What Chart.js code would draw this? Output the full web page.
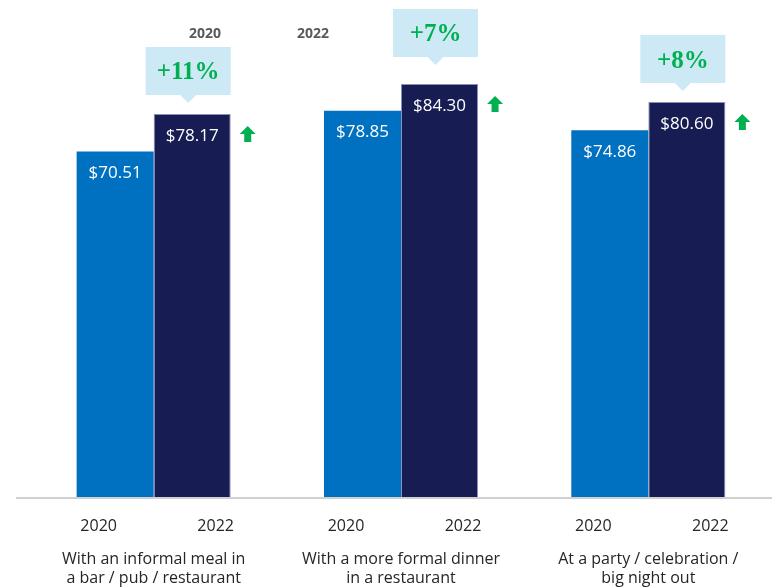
<!DOCTYPE html>
<html>
<head>
<meta charset="utf-8">
<title>Average spend per occasion</title>
<script src="https://cdn.jsdelivr.net/npm/chart.js@4.4.1/dist/chart.umd.min.js"></script>
<style>
    html, body { margin: 0; padding: 0; background: #fff; }
    #spendChart { display: block; }
</style>
</head>
<body>
<canvas id="spendChart" width="772" height="587"></canvas>
<script>
// Occasions (two-line tick labels)
const categories = [
    ['With an informal meal in', 'a bar / pub / restaurant'],
    ['With a more formal dinner', 'in a restaurant'],
    ['At a party / celebration /', 'big night out']
];
const years = ['2020', '2022'];
const spend2020 = [70.51, 78.85, 74.86];
const spend2022 = [78.17, 84.30, 80.60];
const yTicks = [0, 100];

const colors = {
    bar2020: '#0070C0',
    bar2022: '#171D52',
    bar2022Edge: '#8A90BC',
    callout: '#CDE9F6',
    up: '#00B050',
    axis: '#D0D0D0',
    text: '#262626',
    legend: '#595959'
};

const sansFont = '"Open Sans", "Noto Sans", sans-serif';
const serifFont = '"Liberation Serif", "DejaVu Serif", serif';

/**
 * Percentage change 2020 -> 2022, rounded like the slide
 */
function pctChange(i) {
    return Math.round((spend2022[i] / spend2020[i] - 1) * 100);
}

function formatSpend(v) {
    return '$' + v.toFixed(2);
}

/**
 * Small green up arrow next to a bar
 */
function drawUpArrow(ctx, cx, cy) {
    ctx.save();
    ctx.fillStyle = colors.up;
    ctx.beginPath();
    ctx.moveTo(cx, cy - 8);
    ctx.lineTo(cx + 8, cy);
    ctx.lineTo(cx + 3.5, cy);
    ctx.lineTo(cx + 3.5, cy + 8);
    ctx.lineTo(cx - 3.5, cy + 8);
    ctx.lineTo(cx - 3.5, cy);
    ctx.lineTo(cx - 8, cy);
    ctx.closePath();
    ctx.fill();
    ctx.restore();
}

/**
 * Speech-bubble box with a pointer at the bottom centre
 */
function drawCallout(ctx, cx, bottom, text) {
    const w = 85, h = 48, tip = 8;
    const left = cx - w / 2, top = bottom - h;
    ctx.save();
    ctx.fillStyle = colors.callout;
    ctx.beginPath();
    ctx.moveTo(left, top);
    ctx.lineTo(left + w, top);
    ctx.lineTo(left + w, bottom);
    ctx.lineTo(cx + tip, bottom);
    ctx.lineTo(cx, bottom + tip);
    ctx.lineTo(cx - tip, bottom);
    ctx.lineTo(left, bottom);
    ctx.closePath();
    ctx.fill();

    ctx.fillStyle = colors.up;
    ctx.font = 'bold 25px ' + serifFont;
    ctx.textAlign = 'center';
    ctx.textBaseline = 'middle';
    ctx.fillText(text, cx, top + h / 2 + 2);
    ctx.restore();
}

// Baseline, value labels, arrows, callouts, year labels and the header legend
const spendAnnotations = {
    id: 'spendAnnotations',
    beforeDatasetsDraw(chart) {
        const ctx = chart.ctx;
        const y = chart.chartArea.bottom + 1;
        ctx.save();
        ctx.strokeStyle = colors.axis;
        ctx.lineWidth = 2;
        ctx.beginPath();
        ctx.moveTo(16, y);
        ctx.lineTo(chart.width, y);
        ctx.stroke();
        ctx.restore();
    },
    afterDatasetsDraw(chart) {
        const ctx = chart.ctx;
        const xScale = chart.scales.x;
        const bars2020 = chart.getDatasetMeta(0).data;
        const bars2022 = chart.getDatasetMeta(1).data;

        // Value labels inside the bars
        ctx.save();
        ctx.fillStyle = '#FFFFFF';
        ctx.font = '17px ' + sansFont;
        ctx.textAlign = 'center';
        ctx.textBaseline = 'middle';
        bars2020.forEach((bar, i) => ctx.fillText(formatSpend(spend2020[i]), bar.x, bar.y + 22));
        bars2022.forEach((bar, i) => ctx.fillText(formatSpend(spend2022[i]), bar.x, bar.y + 22));
        ctx.restore();

        // Arrows and % change callouts over the 2022 bars
        bars2022.forEach((bar, i) => {
            drawUpArrow(ctx, bar.x + bar.width / 2 + 17, bar.y + 20);
            const lift = i === 1 ? 27 : 19;
            drawCallout(ctx, bar.x - 4, bar.y - lift, '+' + pctChange(i) + '%');
        });

        // Year labels under each group
        ctx.save();
        ctx.fillStyle = colors.text;
        ctx.font = '16px ' + sansFont;
        ctx.textAlign = 'center';
        ctx.textBaseline = 'middle';
        categories.forEach((c, i) => {
            const cx = xScale.getPixelForValue(i);
            ctx.filter = i === 0 ? 'none' : 'blur(0.6px)';
            ctx.fillText(years[0], cx - 55, 526);
            ctx.fillText(years[1], cx + 62, 526);
        });
        ctx.restore();

        // Header legend
        ctx.save();
        ctx.filter = 'blur(0.6px)';
        ctx.fillStyle = colors.legend;
        ctx.font = 'bold 14px ' + sansFont;
        ctx.textAlign = 'center';
        ctx.textBaseline = 'middle';
        ctx.fillText(chart.data.datasets[0].label, 205, 34);
        ctx.fillText(chart.data.datasets[1].label, 313, 34);
        ctx.restore();
    }
};

function initSpendChart() {
    const ctx = document.getElementById('spendChart').getContext('2d');
    return new Chart(ctx, {
        type: 'bar',
        data: {
            labels: categories,
            datasets: [{
                label: years[0],
                data: spend2020,
                backgroundColor: colors.bar2020,
                borderWidth: 0
            }, {
                label: years[1],
                data: spend2022,
                backgroundColor: colors.bar2022,
                borderColor: colors.bar2022Edge,
                borderWidth: 1
            }]
        },
        options: {
            responsive: false,
            devicePixelRatio: 1,
            animation: false,
            layout: {
                padding: { left: 30, right: 0, top: 7, bottom: 0 }
            },
            datasets: {
                bar: {
                    categoryPercentage: 0.623,
                    barPercentage: 1
                }
            },
            plugins: {
                legend: { display: false },
                tooltip: { enabled: false }
            },
            scales: {
                x: {
                    grid: { display: false, drawTicks: false },
                    border: { display: false },
                    ticks: {
                        color: colors.text,
                        font: { family: sansFont, size: 16 },
                        padding: 53,
                        maxRotation: 0,
                        autoSkip: false
                    },
                    // fixed band under the bars for years + occasion text
                    afterFit(scale) {
                        scale.height = 90;
                        scale.paddingLeft = 0;
                        scale.paddingRight = 0;
                    }
                },
                y: {
                    display: false,
                    min: yTicks[0],
                    max: yTicks[1]
                }
            }
        },
        plugins: [spendAnnotations]
    });
}

const spendChart = initSpendChart();
</script>
</body>
</html>
